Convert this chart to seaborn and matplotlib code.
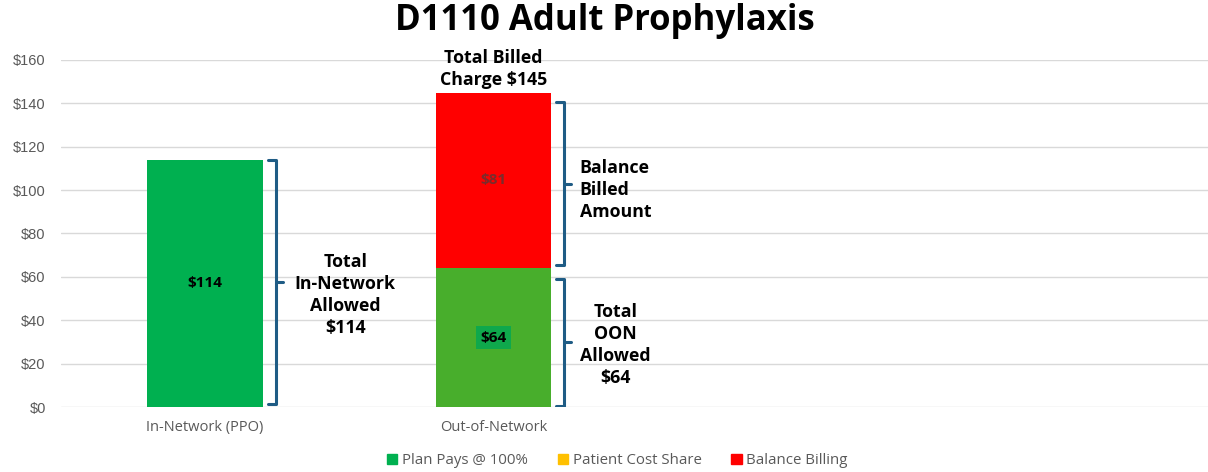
import pandas as pd
import seaborn as sns
import matplotlib.pyplot as plt
from matplotlib.patches import Patch

# chart values
categories = ["In-Network (PPO)", "Out-of-Network"]
plan_pays = [114, 64]
patient_share = [0, 0]
balance_billing = [0, 81]
yticks = [0, 20, 40, 60, 80, 100, 120, 140, 160]
legend_labels = ["Plan Pays @ 100%", "Patient Cost Share", "Balance Billing"]

df = pd.DataFrame({"category": categories, "plan": plan_pays,
                   "patient": patient_share, "balance": balance_billing})
df["upto_patient"] = df["plan"] + df["patient"]
df["total"] = df["upto_patient"] + df["balance"]

green_in = "#00B050"
green_oon = "#48AE2C"
yellow = "#FFC000"
red = "#FF0000"
brace = "#1F5C85"

sns.set_style("white")
plt.rcParams["font.family"] = ["Open Sans", "DejaVu Sans"]
plt.rcParams["text.color"] = "black"

fig = plt.figure(figsize=(12.08, 4.72), dpi=100)
ax = fig.add_axes([0.0505, 0.1377, 0.9495, 0.7352])

# stacked bars: draw cumulative heights back to front
sns.barplot(data=df, x="category", y="total", color=red, width=0.4,
            saturation=1, errorbar=None, linewidth=0, ax=ax, zorder=2)
sns.barplot(data=df, x="category", y="upto_patient", color=yellow, width=0.4,
            saturation=1, errorbar=None, linewidth=0, ax=ax, zorder=2)
sns.barplot(data=df, x="category", y="plan", hue="category",
            palette=[green_in, green_oon], width=0.4, saturation=1,
            errorbar=None, legend=False, linewidth=0, ax=ax, zorder=2)

ax.set_xlim(-0.5, 3.48)
ax.set_ylim(0, 160)
ax.set_yticks(yticks)
ax.set_yticklabels([f"${v}" for v in yticks], family="Liberation Sans",
                   fontsize=10.5, color="#595959")
ax.tick_params(axis="y", length=0, pad=11)
ax.tick_params(axis="x", length=0, pad=9, labelsize=10.5, labelcolor="#595959")
ax.set_xlabel("")
ax.set_ylabel("")
ax.yaxis.grid(True, color="#D9D9D9", linewidth=1, zorder=0)
ax.set_axisbelow(True)
for s in ax.spines.values():
    s.set_visible(False)

# value labels inside bars
ax.text(0, plan_pays[0] / 2, f"${plan_pays[0]}", ha="center", va="center",
        fontsize=11, fontweight="bold", color="black", zorder=4)
ax.text(1, plan_pays[1] / 2, f"${plan_pays[1]}", ha="center", va="center",
        fontsize=11, fontweight="bold", color="black", zorder=4,
        bbox=dict(boxstyle="square,pad=0.3", fc="#0FA84C", ec="none"))
ax.text(1, df["upto_patient"][1] + balance_billing[1] / 2, f"${balance_billing[1]}",
        ha="center", va="center", fontsize=11, fontweight="bold",
        color="#7A2C2C", zorder=4)


def bracket(xc, lo, hi):
    x0 = xc + 0.217
    x1 = x0 + 0.028
    mid = (lo + hi) / 2
    ax.plot([x0, x1, x1, x0], [hi, hi, lo, lo], color=brace, lw=2.2,
            solid_joinstyle="round", solid_capstyle="round", zorder=3)
    ax.plot([x1, x1 + 0.026], [mid, mid], color=brace, lw=2.2,
            solid_capstyle="round", zorder=3)


bracket(0, 1.5, df["total"][0])
bracket(1, df["upto_patient"][1] + 1.5, df["total"][1] - 4.5)
bracket(1, 0.5, df["upto_patient"][1] - 5)

lab = dict(fontsize=12.8, fontweight="bold", color="black", linespacing=1.28)
ax.text(0.486, 51.6, f"Total\nIn-Network\nAllowed\n${df['total'][0]}",
        ha="center", va="center", **lab)
ax.text(1.0, df["total"][1] + 1.5, f"Total Billed\nCharge ${df['total'][1]}",
        ha="center", va="bottom", **lab)
ax.text(1.30, 100, "Balance\nBilled\nAmount", ha="left", va="center", **lab)
ax.text(1.424, 28.5, f"Total\nOON\nAllowed\n${plan_pays[1]}",
        ha="center", va="center", **lab)

fig.text(0.501, 0.955, "D1110 Adult Prophylaxis", ha="center", va="center",
         fontsize=25, fontweight="bold", color="black")

handles = [Patch(color=c) for c in [green_in, yellow, red]]
fig.legend(handles, legend_labels, loc="center", bbox_to_anchor=(0.511, 0.024),
           ncol=3, frameon=False, handlelength=0.7, handleheight=0.7,
           handletextpad=0.3, columnspacing=2.0,
           prop={"size": 10.8}, labelcolor="#595959")

fig.savefig("out.png", dpi=100)
